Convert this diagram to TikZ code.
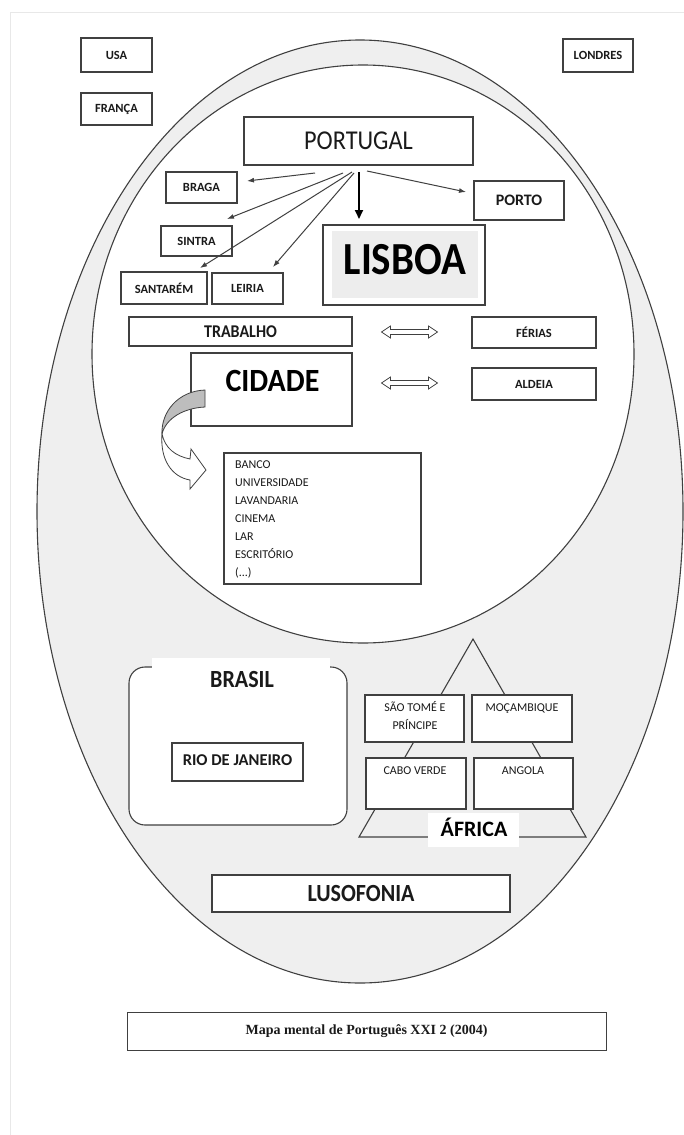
\documentclass[tikz,border=0pt]{standalone}
\usepackage{fontspec}
\setmainfont{Carlito}
\newfontfamily\capfont{Liberation Serif}
\usepackage{graphicx}
\usetikzlibrary{arrows.meta}
\newcommand\tall[1]{\scalebox{1}[1.12]{#1}}
\definecolor{edge}{HTML}{404040}
\definecolor{outerfill}{HTML}{EFEFEF}
\definecolor{ink}{HTML}{1A1A1A}
\definecolor{ribbon}{HTML}{BDBDBD}
\definecolor{lisgray}{HTML}{EDEDED}
\begin{document}
\begin{tikzpicture}[x=1pt,y=-1pt,
  box/.style={draw=edge, line width=1.1pt, fill=white, inner sep=0pt, text=ink},
  lbl/.style={font=\bfseries\fontsize{12.5}{14}\selectfont, text=ink},
  reg/.style={font=\fontsize{12}{18}\selectfont, text=ink},
  fan/.style={draw=edge, line width=1pt, -{Latex[length=7pt,width=5pt]}},
  dblarr/.pic={\draw[draw=edge, fill=white, line width=0.8pt]
     (-28,0) -- (-19,-6) -- (-19,-2.5) -- (19,-2.5) -- (19,-6) -- (28,0)
     -- (19,6) -- (19,2.5) -- (-19,2.5) -- (-19,6) -- cycle;}
]
\useasboundingbox (0,0) rectangle (684,1135);
\fill[white] (0,0) rectangle (684,1135);
\draw[gray!18, line width=0.8pt] (10,1135) -- (10,12) -- (684,12);

% ellipses
\draw[draw=edge, fill=outerfill, line width=1.1pt] (360,511.5) ellipse [x radius=323, y radius=471.5];
\draw[draw=edge, fill=white, line width=1.1pt] (363,354) ellipse [x radius=271, y radius=289];

% outside boxes
\node[box, lbl, minimum width=71pt, minimum height=34pt] (usa) at (116.5,55) {USA};
\node[box, lbl, minimum width=71pt, minimum height=32pt] (franca) at (116.5,109) {FRANÇA};
\node[box, lbl, minimum width=70pt, minimum height=33pt] (londres) at (598,55.5) {LONDRES};

% Portugal cluster
\node[box, minimum width=229pt, minimum height=48pt, font=\fontsize{24.3}{28}\selectfont] (portugal) at (358.5,141) {\tall{PORTUGAL}};
\node[box, lbl, minimum width=71pt, minimum height=31pt] (braga) at (201.5,187.5) {BRAGA};
\node[box, lbl, minimum width=71pt, minimum height=30pt] (sintra) at (196.5,241) {SINTRA};
\node[box, lbl, minimum width=86pt, minimum height=32pt] (santarem) at (164,288) {SANTARÉM};
\node[box, lbl, minimum width=71pt, minimum height=31pt] (leiria) at (247.5,288.5) {LEIRIA};
\node[box, lbl, font=\bfseries\fontsize{16}{18}\selectfont, minimum width=90pt, minimum height=39pt] (porto) at (519,200.5) {PORTO};
\node[box, minimum width=162pt, minimum height=80pt] (lisboa) at (404,265) {};
\fill[lisgray] (332,231) rectangle (478,298);
\node[font=\bfseries\fontsize{41}{44}\selectfont, text=black, inner sep=0pt] (lisboaT) at (405,259.5) {\tall{LISBOA}};

% connectors from Portugal
\coordinate (o1) at (315,173);
\coordinate (o2) at (343,173);
\coordinate (o3) at (352,172);
\coordinate (o4) at (354,173);
\coordinate (o5) at (359,172);
\coordinate (o6) at (367,171);
\coordinate (tBraga) at (247,181);
\coordinate (tSintra) at (227,219);
\coordinate (tSant) at (200,268);
\coordinate (tLeiria) at (273,267);
\coordinate (tLisboa) at (359,219);
\coordinate (tPorto) at (466,192);
\draw[fan] (o1) -- (tBraga);
\draw[fan] (o2) -- (tSintra);
\draw[fan] (o3) -- (tSant);
\draw[fan] (o4) -- (tLeiria);
\draw[fan] (o6) -- (tPorto);
\draw[draw=black, line width=2pt, -{Triangle[length=9pt,width=8pt]}] (o5) -- (tLisboa);

% work / holidays
\node[box, lbl, font=\bfseries\fontsize{16}{18}\selectfont, minimum width=223pt, minimum height=29pt] (trabalho) at (240.5,331.5) {\tall{TRABALHO}};
\node[box, lbl, minimum width=124pt, minimum height=31pt] (ferias) at (534,332.5) {FÉRIAS};
\node[box, minimum width=161pt, minimum height=73pt] (cidade) at (271.5,389.5) {};
\node[font=\bfseries\fontsize{30}{32}\selectfont, text=black, inner sep=0pt] (cidadeT) at (272.5,380.5) {\scalebox{1}[1.08]{CIDADE}};
\node[box, lbl, minimum width=124pt, minimum height=32pt] (aldeia) at (534,384) {ALDEIA};
\pic at (409.5,332) {dblarr};
\pic at (409.5,383) {dblarr};

% list box
\node[box, minimum width=197pt, minimum height=131pt] (lista) at (322.5,518.5) {};
\node[reg, align=left, anchor=north west, inner sep=0pt] (listaT) at (235,461) {BANCO\\UNIVERSIDADE\\LAVANDARIA\\CINEMA\\LAR\\ESCRITÓRIO\\(...)};

% curved ribbon arrow from CIDADE
\filldraw[draw=edge, fill=ribbon, line width=0.8pt] (205,390) -- (205,407)
   .. controls (184,408) and (166,418) .. (162,434)
   .. controls (161,412) and (178,391) .. (205,390) -- cycle;
\filldraw[draw=edge, fill=white, line width=0.8pt] (162,434)
   .. controls (165,448) and (175,456) .. (190,459) -- (191,449) -- (206,470) -- (190,489) -- (190,480)
   .. controls (172,477) and (160,460) .. (162,434) -- cycle;

% Brasil
\draw[draw=edge, fill=white, line width=1.1pt, rounded corners=16pt] (129,667) rectangle (347,825);
\node[fill=white, minimum width=178pt, minimum height=32pt, inner sep=0pt] (brasil) at (241,674) {};
\node[font=\bfseries\fontsize{22}{24}\selectfont, text=ink, inner sep=0pt] (brasilT) at (242,679) {\tall{BRASIL}};
\node[box, minimum width=131pt, minimum height=38pt] (rio) at (237.5,762) {};
\node[font=\bfseries\fontsize{16.5}{18}\selectfont, text=ink, inner sep=0pt] (rioT) at (237.5,760) {RIO DE JANEIRO};

% Africa triangle
\coordinate (apex) at (473,639);
\coordinate (bl) at (359,837);
\coordinate (br) at (586,837);
\draw[draw=edge, line width=1.1pt] (bl) -- (apex) -- (br) -- cycle;
\node[fill=white, minimum width=91pt, minimum height=34pt, inner sep=0pt] (africa) at (473.5,830) {};
\node[font=\bfseries\fontsize{22}{24}\selectfont, text=black, inner sep=0pt] (africaT) at (474,827) {ÁFRICA};
\node[box, minimum width=99pt, minimum height=47pt] (stp) at (414.5,718.5) {};
\node[reg, align=center, inner sep=0pt, anchor=north] (stpT) at (415,701) {SÃO TOMÉ E\\PRÍNCIPE};
\node[box, minimum width=100pt, minimum height=47pt] (moc) at (522,718.5) {};
\node[reg, inner sep=0pt] (mocT) at (522,709) {MOÇAMBIQUE};
\node[box, minimum width=100pt, minimum height=51pt] (cabo) at (416,783.5) {};
\node[reg, inner sep=0pt] (caboT) at (415,771) {CABO VERDE};
\node[box, minimum width=99pt, minimum height=51pt] (angola) at (523.5,783.5) {};
\node[reg, inner sep=0pt] (angolaT) at (523,771) {ANGOLA};

% Lusofonia
\node[box, font=\bfseries\fontsize{22}{24}\selectfont, minimum width=298pt, minimum height=37pt] (lusofonia) at (361,893.5) {\tall{LUSOFONIA}};

% caption
\node[box, line width=1pt, minimum width=479pt, minimum height=38pt, font=\capfont\bfseries\fontsize{14}{16}\selectfont] (caption) at (366.5,1031) {Mapa mental de Português XXI 2 (2004)};
\end{tikzpicture}
\end{document}
